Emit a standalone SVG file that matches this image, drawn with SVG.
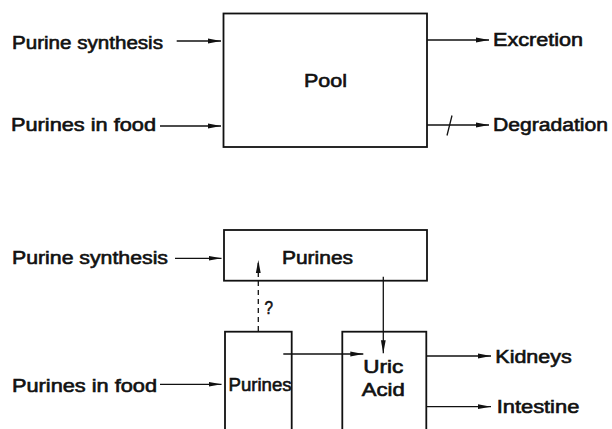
<svg xmlns="http://www.w3.org/2000/svg" width="612" height="429" viewBox="0 0 612 429">
<defs>
<marker id="ah" markerUnits="userSpaceOnUse" markerWidth="14" markerHeight="8" refX="13" refY="3" orient="auto">
<path d="M0,0.6 L13,3 L0,5.4 Z" fill="#111"/>
</marker>
<style>
text{font-family:"Liberation Sans",Arial,sans-serif;font-size:18px;font-weight:normal;fill:#111;stroke:#111;stroke-width:0.6;}
.box{fill:none;stroke:#111;stroke-width:1.8;}
.ln{fill:none;stroke:#111;stroke-width:1.3;}
.dash{stroke-dasharray:5 4;}
</style>
</defs>
<rect width="612" height="429" fill="#fff"/>

<g id="pool">
<rect class="box" x="223.5" y="13.5" width="203.5" height="133.5"/>
<text x="304" y="87" textLength="43" lengthAdjust="spacingAndGlyphs">Pool</text>
</g>
<g id="src-synth-top"><text x="12" y="49" textLength="151" lengthAdjust="spacingAndGlyphs">Purine synthesis</text></g>
<g id="src-food-top"><text x="11" y="131" textLength="145" lengthAdjust="spacingAndGlyphs">Purines in food</text></g>
<g id="excretion"><text x="493" y="46" textLength="90" lengthAdjust="spacingAndGlyphs">Excretion</text></g>
<g id="degradation"><text x="493" y="131" textLength="115" lengthAdjust="spacingAndGlyphs">Degradation</text></g>

<g id="purines-box">
<rect class="box" x="224" y="230" width="203" height="50.7"/>
<text x="282" y="264" textLength="71" lengthAdjust="spacingAndGlyphs">Purines</text>
</g>
<g id="food-purines">
<rect class="box" x="225" y="331.7" width="66.7" height="110"/>
<text x="228.5" y="391" textLength="63" lengthAdjust="spacingAndGlyphs">Purines</text>
</g>
<g id="uric-acid">
<rect class="box" x="342.3" y="331.7" width="84" height="110"/>
<text x="363.3" y="373.3" textLength="40" lengthAdjust="spacingAndGlyphs">Uric</text>
<text x="361.7" y="395.7" textLength="43" lengthAdjust="spacingAndGlyphs">Acid</text>
</g>
<g id="src-synth-bot"><text x="12" y="264" textLength="156" lengthAdjust="spacingAndGlyphs">Purine synthesis</text></g>
<g id="src-food-bot"><text x="12" y="391.5" textLength="145" lengthAdjust="spacingAndGlyphs">Purines in food</text></g>
<g id="kidneys"><text x="495.3" y="362.7" textLength="76.5" lengthAdjust="spacingAndGlyphs">Kidneys</text></g>
<g id="intestine"><text x="496.7" y="412.7" textLength="82.6" lengthAdjust="spacingAndGlyphs">Intestine</text></g>

<g id="connectors">
<line class="ln" x1="176.7" y1="41" x2="221" y2="41" marker-end="url(#ah)"/>
<line class="ln" x1="160" y1="126" x2="221" y2="126" marker-end="url(#ah)"/>
<line class="ln" x1="427" y1="40" x2="489" y2="40" marker-end="url(#ah)"/>
<line class="ln" x1="427" y1="125" x2="489" y2="125" marker-end="url(#ah)"/>
<line class="ln" x1="447" y1="135.5" x2="452" y2="115.5" stroke-width="1.6"/>

<line class="ln" x1="175" y1="258.3" x2="221.5" y2="258.3" marker-end="url(#ah)"/>
<line class="ln dash" x1="258.3" y1="331" x2="258.3" y2="260" marker-end="url(#ah)"/>
<text x="264.5" y="313.5" style="font-size:19px" textLength="8.5" lengthAdjust="spacingAndGlyphs">?</text>
<line class="ln" x1="160" y1="384.3" x2="221.5" y2="384.3" marker-end="url(#ah)"/>
<line class="ln" x1="283.3" y1="354" x2="363.3" y2="354" marker-end="url(#ah)"/>
<line class="ln" x1="383.3" y1="276.7" x2="383.3" y2="353.3" marker-end="url(#ah)"/>
<line class="ln" x1="426.3" y1="356" x2="491" y2="356" marker-end="url(#ah)"/>
<line class="ln" x1="426.3" y1="406.7" x2="491" y2="406.7" marker-end="url(#ah)"/>
</g>
</svg>
